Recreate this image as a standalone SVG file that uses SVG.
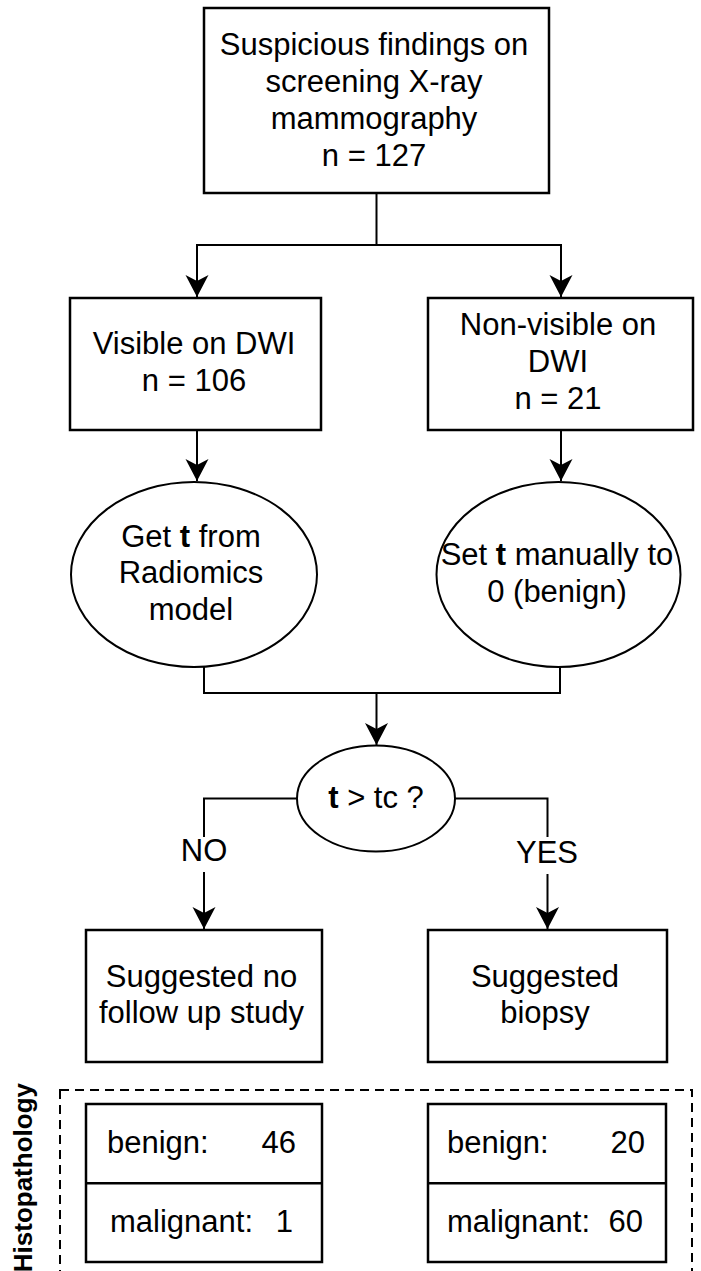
<svg xmlns="http://www.w3.org/2000/svg" width="701" height="1271" viewBox="0 0 701 1271">
<defs>
<style>
.box{fill:#fff;stroke:#000;stroke-width:2.5}
.ell{fill:#fff;stroke:#000;stroke-width:2}
.ln{fill:none;stroke:#000;stroke-width:2}
.dash{fill:none;stroke:#000;stroke-width:2;stroke-dasharray:9 6}
.t{font-family:"Liberation Sans",Arial,Helvetica,sans-serif;font-size:31px;fill:#000}
.c{text-anchor:middle}
.b{font-weight:bold}
</style>
<marker id="arr" viewBox="-23 -12 24 24" refX="0" refY="0" markerWidth="24" markerHeight="24" markerUnits="userSpaceOnUse" orient="auto">
<path d="M0,0 L-22,-11.5 L-16,0 L-22,11.5 Z" fill="#000"/>
</marker>
</defs>
<rect width="701" height="1271" fill="#fff"/>

<g id="connectors">
<path class="ln" d="M376.5,193 V245 H197 V297" marker-end="url(#arr)"/>
<path class="ln" d="M376.5,245 H561 V297" marker-end="url(#arr)"/>
<path class="ln" d="M197,430 V481" marker-end="url(#arr)"/>
<path class="ln" d="M561,430 V481" marker-end="url(#arr)"/>
<path class="ln" d="M204,667 V693 H560 V667"/>
<path class="ln" d="M376.5,693 V745" marker-end="url(#arr)"/>
<path class="ln" d="M297,798.5 H204 V837"/>
<path class="ln" d="M204,872 V929" marker-end="url(#arr)"/>
<path class="ln" d="M455,798.5 H547.5 V837"/>
<path class="ln" d="M547.5,874 V929" marker-end="url(#arr)"/>
<text class="t c" x="204" y="861">NO</text>
<text class="t c" x="547" y="863">YES</text>
</g>

<g id="node-screening">
<rect class="box" x="204" y="8" width="345" height="185"/>
<text class="t c" x="374" y="55">Suspicious findings on</text>
<text class="t c" x="374" y="92">screening X-ray</text>
<text class="t c" x="374" y="129">mammography</text>
<text class="t c" x="374" y="166">n = 127</text>
</g>

<g id="node-visible">
<rect class="box" x="70" y="298" width="251" height="132"/>
<text class="t c" x="194" y="354">Visible on DWI</text>
<text class="t c" x="194" y="391">n = 106</text>
</g>

<g id="node-nonvisible">
<rect class="box" x="428" y="298" width="265" height="132"/>
<text class="t c" x="558" y="335">Non-visible on</text>
<text class="t c" x="558" y="372">DWI</text>
<text class="t c" x="558" y="409">n = 21</text>
</g>

<g id="node-radiomics">
<ellipse class="ell" cx="194" cy="574.5" rx="123" ry="92.5"/>
<text class="t c" x="191" y="547">Get <tspan class="b">t</tspan> from</text>
<text class="t c" x="191" y="583">Radiomics</text>
<text class="t c" x="191" y="620">model</text>
</g>

<g id="node-manual">
<ellipse class="ell" cx="558.5" cy="574.5" rx="122" ry="92.5"/>
<text class="t c" x="557" y="565">Set <tspan class="b">t</tspan> manually to</text>
<text class="t c" x="557" y="602">0 (benign)</text>
</g>

<g id="node-decision">
<ellipse class="ell" cx="376" cy="798.5" rx="79" ry="53"/>
<text class="t c" x="376" y="808"><tspan class="b">t</tspan> &gt; tc ?</text>
</g>

<g id="node-nofollowup">
<rect class="box" x="86" y="930" width="236" height="132"/>
<text class="t c" x="201.5" y="987">Suggested no</text>
<text class="t c" x="201.5" y="1023">follow up study</text>
</g>

<g id="node-biopsy">
<rect class="box" x="428" y="930" width="239" height="132"/>
<text class="t c" x="545" y="987">Suggested</text>
<text class="t c" x="545" y="1023">biopsy</text>
</g>

<g id="group-histopathology">
<rect class="dash" x="60" y="1090" width="632" height="220"/>
<text class="t b" font-size="26" style="font-size:26px" text-anchor="end" transform="translate(32,1083) rotate(-90)">Histopathology</text>
</g>

<g id="node-table-no">
<rect class="box" x="86" y="1104" width="236" height="158"/>
<line class="ln" x1="86" y1="1183.3" x2="322" y2="1183.3" style="stroke-width:2.5"/>
<text class="t"><tspan x="107" y="1153">benign:</tspan><tspan x="296" y="1153" text-anchor="end">46</tspan></text>
<text class="t"><tspan x="110" y="1232">malignant:</tspan><tspan x="293" y="1232" text-anchor="end">1</tspan></text>
</g>

<g id="node-table-biopsy">
<rect class="box" x="428" y="1104" width="238" height="158"/>
<line class="ln" x1="428" y1="1183.3" x2="666" y2="1183.3" style="stroke-width:2.5"/>
<text class="t"><tspan x="447" y="1153">benign:</tspan><tspan x="645" y="1153" text-anchor="end">20</tspan></text>
<text class="t"><tspan x="447" y="1232">malignant:</tspan><tspan x="643" y="1232" text-anchor="end">60</tspan></text>
</g>
</svg>
